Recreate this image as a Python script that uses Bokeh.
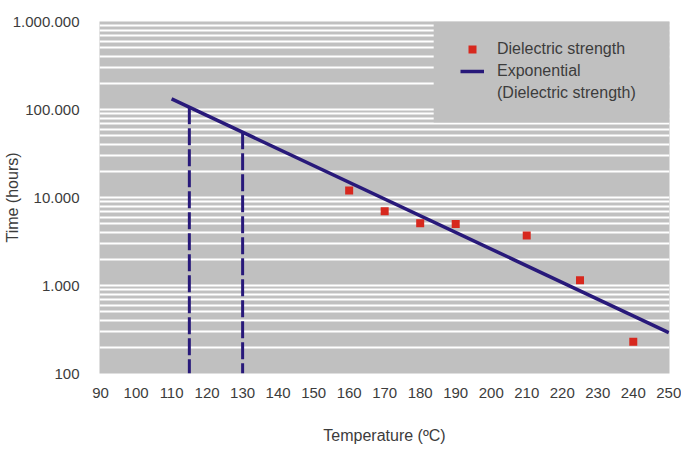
from bokeh.plotting import figure
from bokeh.models import (FixedTicker, Legend, LegendItem, ColumnDataSource,
                          BoxAnnotation)
from bokeh.embed import file_html
from bokeh.resources import INLINE

# ---------------- data ----------------
temperature = [160, 170, 180, 190, 210, 225, 240]
time_hours = [12000, 7000, 5100, 5000, 3700, 1150, 230]

trend_temperature = [110, 250]
trend_time = [132000, 292]

marker_temperature = [115, 130]
marker_time = [106000, 55000]

x_ticks = [90, 100, 110, 120, 130, 140, 150, 160, 170, 180, 190, 200, 210,
           220, 230, 240, 250]
y_ticks = [100, 1000, 10000, 100000, 1000000]
y_tick_labels = ["100", "1.000", "10.000", "100.000", "1.000.000"]
grid_mantissas = [1, 2, 3, 4, 5, 6, 7, 8, 9]

# ---------------- style ----------------
GRAY = "#C0C0C0"
RED = "#D7281E"
NAVY = "#28197A"
TEXT = "#3C3C3C"
FONT = "Liberation Sans"

FRAME_W, FRAME_H = 570, 352
# legend panel (covers grid lines in the upper right corner)
LEGEND_PANEL_LEFT = 183.8     # x position (axis units) of the panel's left edge
LEGEND_PANEL_BOTTOM = 71000   # y position (axis units) of the panel's bottom edge
LEGEND_X, LEGEND_Y = 361, 270  # legend anchor in screen px from frame bottom-left

y_min, y_max = y_ticks[0], y_ticks[-1]

p = figure(
    frame_width=FRAME_W, frame_height=FRAME_H,
    min_border_left=96, min_border_right=14, min_border_top=21,
    min_border_bottom=75,
    x_range=(89.7, 250.2), y_range=(y_min, y_max),
    y_axis_type="log",
    output_backend="svg", toolbar_location=None,
    background_fill_color=GRAY, border_fill_color="white",
    outline_line_color=None,
)

# grid lines (white, at 1..9 x each decade, excluding the frame edges)
grid_vals = []
for dec in y_ticks[:-1]:
    for m in grid_mantissas:
        v = dec * m
        if y_min < v < y_max:
            grid_vals.append(v)
p.xgrid.visible = False
p.ygrid.ticker = FixedTicker(ticks=grid_vals)
p.ygrid.grid_line_color = "white"
p.ygrid.grid_line_width = 2
p.ygrid.grid_line_alpha = 1

# axes
for ax in (p.xaxis[0], p.yaxis[0]):
    ax.axis_line_color = None
    ax.major_tick_line_color = None
    ax.minor_tick_line_color = None
    ax.major_label_text_font = FONT
    ax.major_label_text_font_size = "15px"
    ax.major_label_text_color = TEXT
    ax.axis_label_text_font = FONT
    ax.axis_label_text_font_size = "16px"
    ax.axis_label_text_font_style = "normal"
    ax.axis_label_text_color = TEXT

p.xaxis.ticker = FixedTicker(ticks=x_ticks, minor_ticks=[])
p.xaxis.major_label_standoff = 8
p.xaxis.axis_label = "Temperature (ºC)"
p.xaxis.axis_label_standoff = 26

p.yaxis.ticker = FixedTicker(ticks=y_ticks, minor_ticks=[])
p.yaxis.major_label_overrides = {t: s for t, s in zip(y_ticks, y_tick_labels)}
p.yaxis.major_label_standoff = 14
p.yaxis.axis_label = "Time (hours)"
p.yaxis.axis_label_standoff = -11

# gray panel behind the legend
p.add_layout(BoxAnnotation(left=LEGEND_PANEL_LEFT, bottom=LEGEND_PANEL_BOTTOM,
                           fill_color=GRAY, fill_alpha=1, line_color=None,
                           level="underlay"))

# dashed verticals from the trend line down to the axis
seg_src = ColumnDataSource(dict(
    x0=marker_temperature, y0=marker_time,
    x1=marker_temperature, y1=[y_min] * len(marker_temperature)))
p.segment("x0", "y0", "x1", "y1", source=seg_src, line_color=NAVY,
          line_width=3, line_dash="17 4")

# trend line
r_line = p.line(trend_temperature, trend_time, line_color=NAVY, line_width=3.5)

# data points
r_pts = p.scatter(temperature, time_hours, marker="square", size=8,
                  fill_color=RED, line_color=None)

# invisible helper for the second legend text line
r_blank = p.scatter(x=[], y=[], marker="square", fill_alpha=0, line_alpha=0)

legend = Legend(
    items=[
        LegendItem(label="Dielectric strength", renderers=[r_pts]),
        LegendItem(label="Exponential", renderers=[r_line]),
        LegendItem(label="(Dielectric strength)", renderers=[r_blank]),
    ],
    location=(LEGEND_X, LEGEND_Y), margin=0, padding=18,
    spacing=2,
    glyph_width=24, glyph_height=20, label_standoff=13,
    label_height=20,
    background_fill_alpha=0, border_line_color=None,
    label_text_font=FONT, label_text_font_size="16px", label_text_color=TEXT,
)
p.add_layout(legend)

open("out.html", "w").write(file_html(p, INLINE))
